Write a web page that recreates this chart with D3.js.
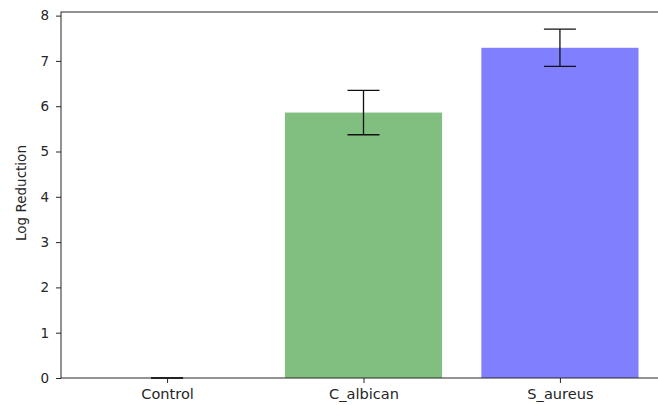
<!DOCTYPE html>
<html>
<head>
<meta charset="utf-8">
<script src="https://cdn.jsdelivr.net/npm/d3@7"></script>
<style>
  body { margin: 0; background: #fff; }
  svg { display: block; }
  text { font-family: "DejaVu Sans", sans-serif; }
</style>
</head>
<body>
<svg id="chart" width="658" height="405"></svg>
<script>
// data
var categories = ["Control", "C_albican", "S_aureus"];
var values = [0, 5.86, 7.29];
var errors = [0, 0.49, 0.41];
var barColors = ["#80bf80", "#80bf80", "#8080ff"];
var yTicks = [0, 1, 2, 3, 4, 5, 6, 7, 8];

var width = 658;
var height = 405;
var margin = {top: 12, bottom: 27, left: 61, right: -8};
var yMax = 8.08;

var svg = d3.select("#chart");

// x: linear scale with matplotlib-style padding round the bars
var x = d3.scaleLinear()
	.domain([-0.54, categories.length - 1 + 0.54])
	.range([margin.left, width - margin.right]);

var y = d3.scaleLinear()
	.domain([0, yMax])
	.range([height - margin.bottom, margin.top]);

var barW = 0.8;

// bars
svg.selectAll(".bar")
	.data(values)
	.enter()
	.append("rect")
		.attr("class", "bar")
		.attr("x", (d, i) => x(i - barW / 2))
		.attr("width", (d, i) => x(i + barW / 2) - x(i - barW / 2))
		.attr("y", d => y(d))
		.attr("height", d => y(0) - y(d))
		.attr("fill", (d, i) => barColors[i]);

// error bars
var cap = 16;
var eb = svg.selectAll(".err")
	.data(values)
	.enter()
	.append("g")
		.attr("class", "err")
		.attr("stroke", "#111")
		.attr("stroke-width", 1.3);

eb.append("line")
	.attr("x1", (d, i) => x(i)).attr("x2", (d, i) => x(i))
	.attr("y1", (d, i) => y(d - errors[i]))
	.attr("y2", (d, i) => y(d + errors[i]));
eb.append("line")
	.attr("x1", (d, i) => x(i) - cap).attr("x2", (d, i) => x(i) + cap)
	.attr("y1", (d, i) => y(d + errors[i]))
	.attr("y2", (d, i) => y(d + errors[i]));
eb.append("line")
	.attr("x1", (d, i) => x(i) - cap).attr("x2", (d, i) => x(i) + cap)
	.attr("y1", (d, i) => y(d - errors[i]))
	.attr("y2", (d, i) => y(d - errors[i]));

// axes
var yAxis = d3.axisLeft(y)
	.tickValues(yTicks)
	.tickFormat(d3.format("d"))
	.tickSize(5)
	.tickPadding(7);

var xAxis = d3.axisBottom(x)
	.tickValues(d3.range(categories.length))
	.tickFormat(i => categories[i])
	.tickSize(5)
	.tickPadding(6);

var gy = svg.append("g")
	.attr("transform", "translate(" + margin.left + ",0)")
	.call(yAxis);
var gx = svg.append("g")
	.attr("transform", "translate(0," + y(0) + ")")
	.call(xAxis);

[gx, gy].forEach(function(g) {
	g.attr("font-family", null).attr("font-size", null);
	g.select(".domain").remove();
	g.selectAll("text").attr("fill", "#262626");
	g.selectAll("line").attr("stroke", "#262626");
});
gy.selectAll("text").style("font-size", "13.5px");
gx.selectAll("text").style("font-size", "13.5px")
	.attr("transform", "scale(1.08,1)");

// spines
svg.append("rect")
	.attr("fill", "none")
	.attr("stroke", "#262626")
	.attr("stroke-width", 1)
	.attr("x", margin.left)
	.attr("y", y(yMax))
	.attr("width", x(categories.length - 1 + 0.54) - margin.left)
	.attr("height", y(0) - y(yMax));

// y label
svg.append("text")
	.attr("transform", "translate(26," + ((y(0) + y(yMax)) / 2 - 2) + ") rotate(-90)")
	.attr("text-anchor", "middle")
	.style("font-size", "13.5px")
	.attr("fill", "#262626")
	.text("Log Reduction");
</script>
</body>
</html>
